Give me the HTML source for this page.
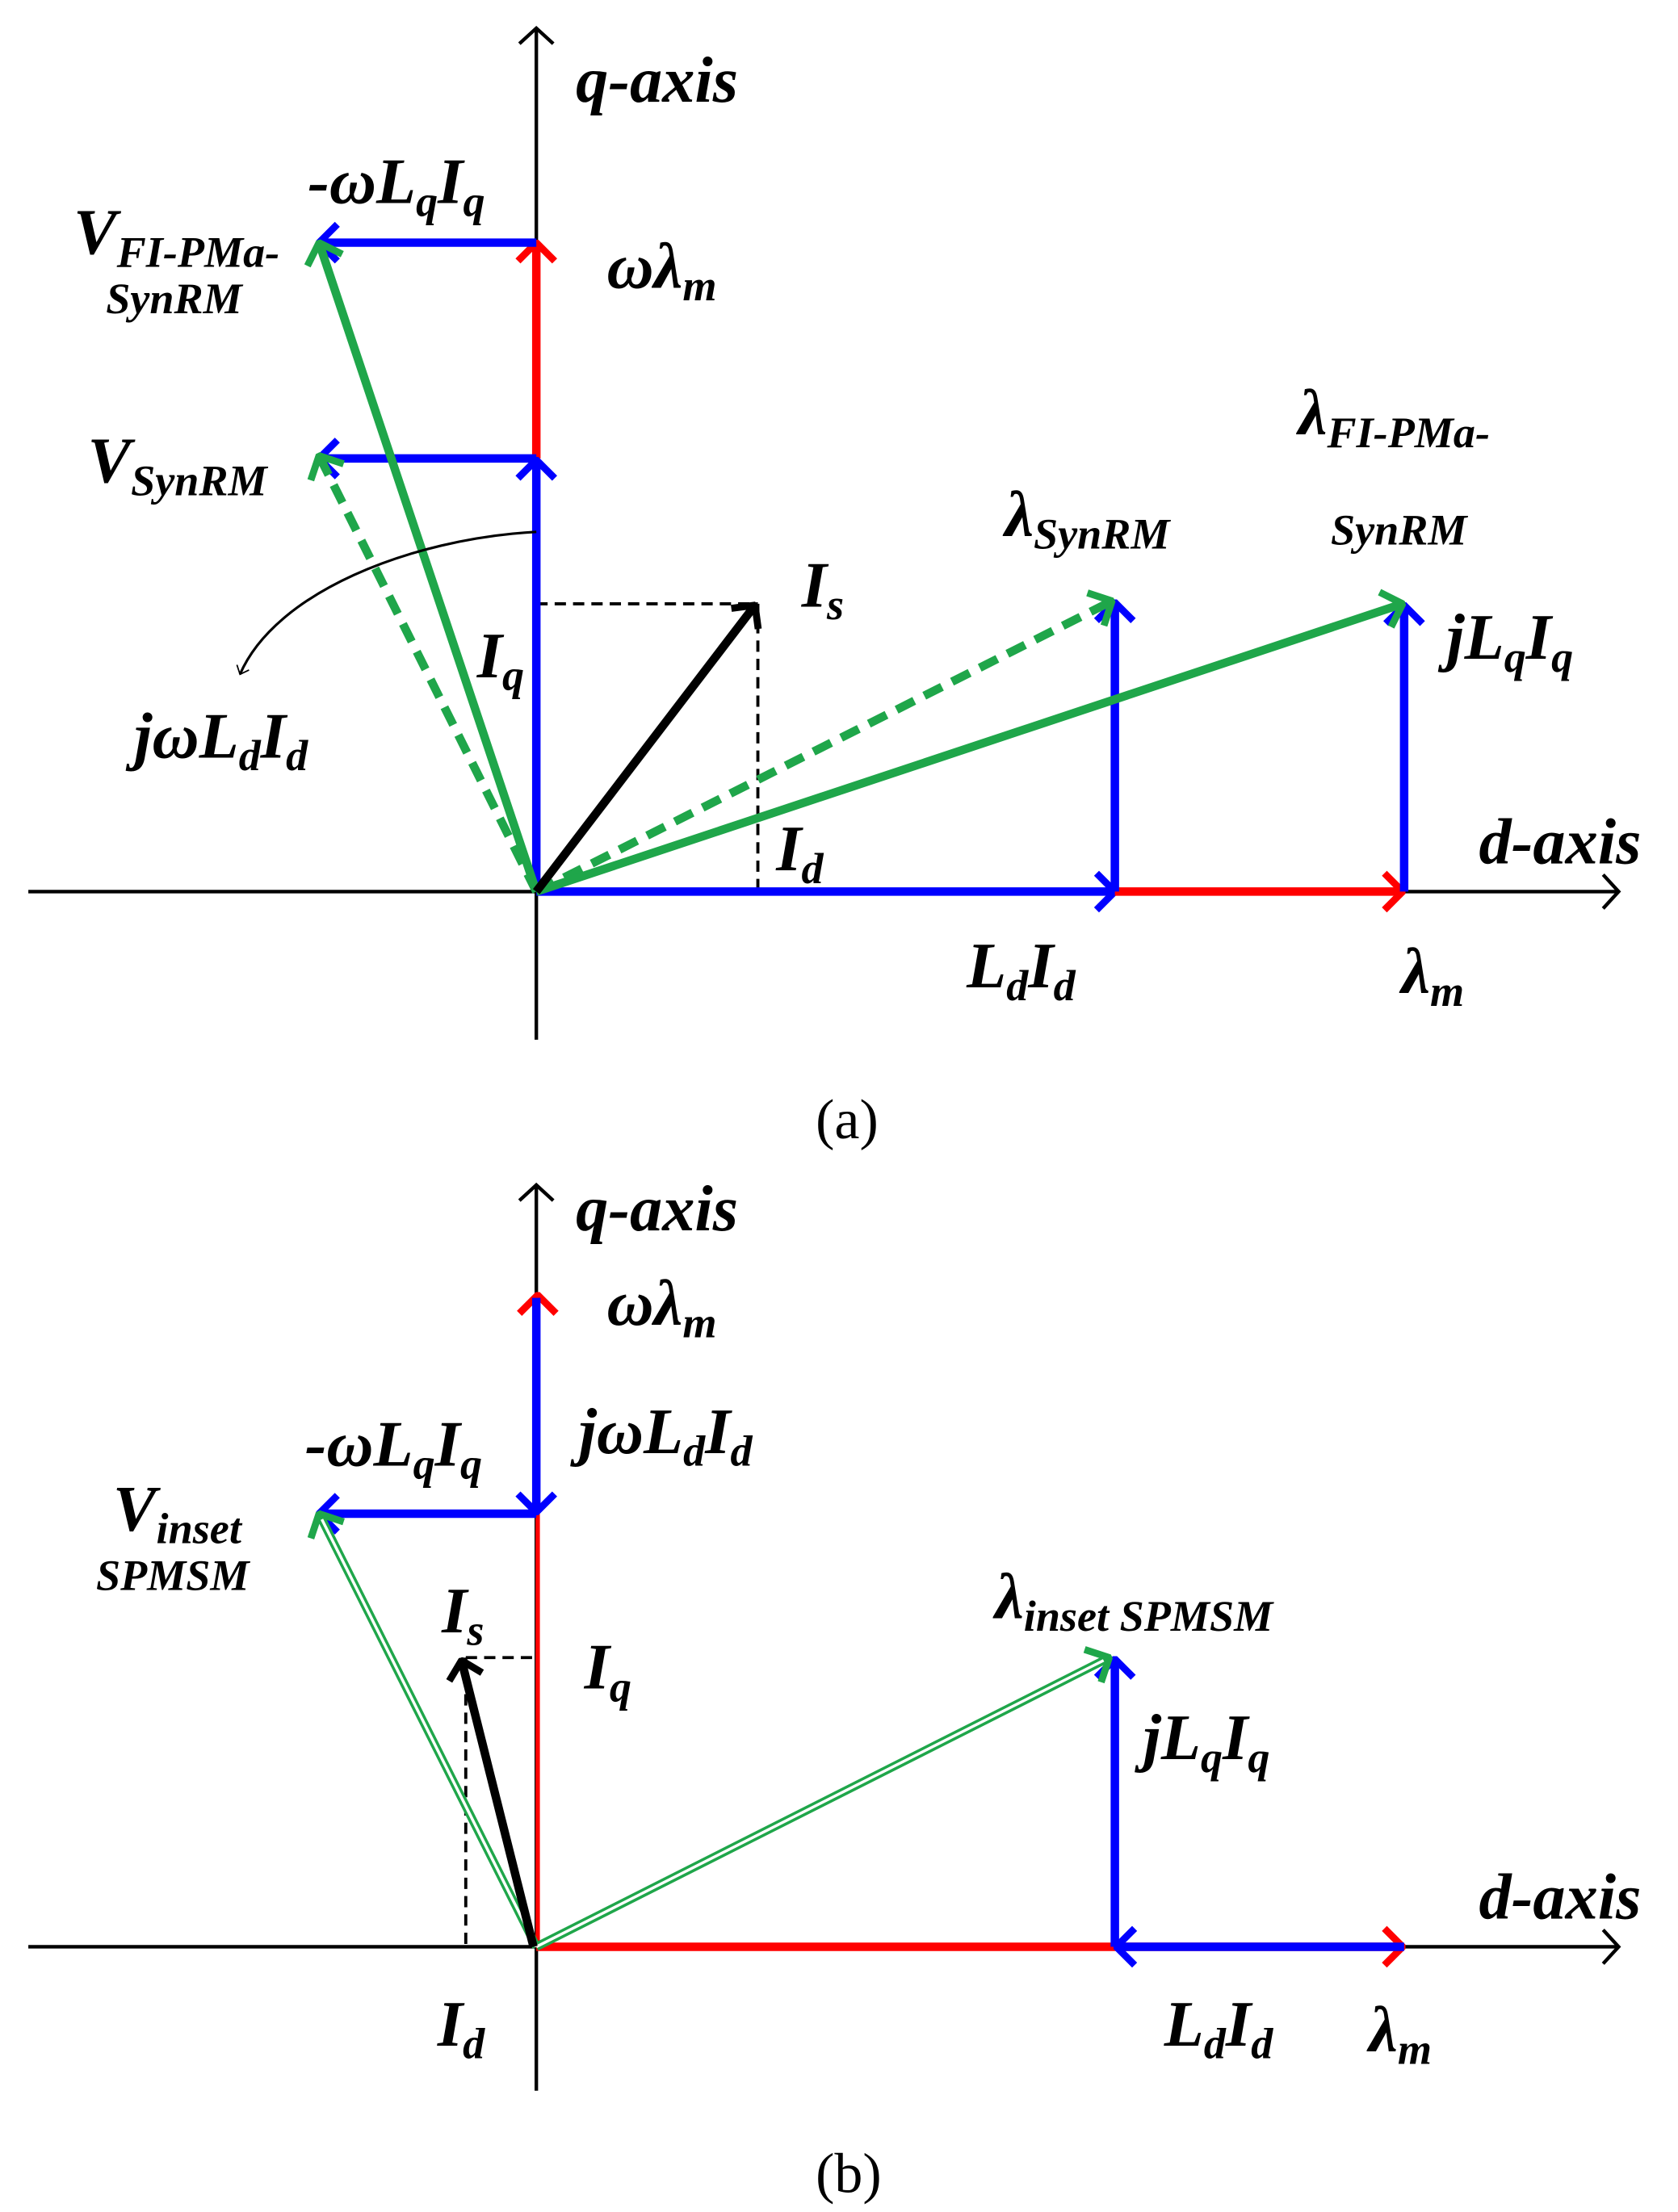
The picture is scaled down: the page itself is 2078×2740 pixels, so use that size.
<!DOCTYPE html>
<html><head><meta charset="utf-8"><style>
html,body{margin:0;padding:0;background:#fff}
svg{display:block}
text{font-family:"Liberation Serif",serif;font-weight:bold;font-style:italic;font-size:46px;fill:#000}
.s{font-size:31px}
.n{font-style:normal;font-weight:normal;font-size:40px}
</style></head><body>
<svg width="2078" height="2740" viewBox="0 0 1189 1568" xmlns="http://www.w3.org/2000/svg">
<defs>
<marker id="ab" viewBox="-16 -15 18 30" markerWidth="18" markerHeight="30" refX="0" refY="0" orient="auto" markerUnits="userSpaceOnUse"><path d="M-13,-13 L0,0 L-13,13" fill="none" stroke="#0000ff" stroke-width="5"/></marker>
<marker id="ar" viewBox="-16 -15 18 30" markerWidth="18" markerHeight="30" refX="0" refY="0" orient="auto" markerUnits="userSpaceOnUse"><path d="M-13,-13 L0,0 L-13,13" fill="none" stroke="#ff0000" stroke-width="5"/></marker>
<marker id="ag" viewBox="-16 -15 18 30" markerWidth="18" markerHeight="30" refX="0" refY="0" orient="auto" markerUnits="userSpaceOnUse"><path d="M-13,-13 L0,0 L-13,13" fill="none" stroke="#1fa64a" stroke-width="5"/></marker>
<marker id="ak" viewBox="-16 -15 18 30" markerWidth="18" markerHeight="30" refX="0" refY="0" orient="auto" markerUnits="userSpaceOnUse"><path d="M-12,-12 L0,0 L-12,12" fill="none" stroke="#000" stroke-width="5"/></marker>
<marker id="ax" viewBox="-14 -14 16 28" markerWidth="16" markerHeight="28" refX="0" refY="0" orient="auto" markerUnits="userSpaceOnUse"><path d="M-11,-12 L0,0 L-11,12" fill="none" stroke="#000" stroke-width="2.5"/></marker>
<marker id="at" viewBox="-12 -12 14 24" markerWidth="10" markerHeight="16" refX="0" refY="0" orient="auto" markerUnits="userSpaceOnUse"><path d="M-8,-7 L0,0 L-8,7" fill="none" stroke="#000" stroke-width="1.5"/></marker>
</defs>

<!-- Panel (a) -->
<line x1="380" y1="737" x2="380" y2="20" stroke="#000" stroke-width="2.5" marker-end="url(#ax)"/>
<line x1="20" y1="632" x2="1147" y2="632" stroke="#000" stroke-width="2.5" marker-end="url(#ax)"/>
<line x1="380" y1="428" x2="537" y2="428" stroke="#000" stroke-width="2.2" stroke-dasharray="8,5"/>
<line x1="537" y1="428" x2="537" y2="632" stroke="#000" stroke-width="2.2" stroke-dasharray="8,5"/>
<line x1="380" y1="325" x2="380" y2="172" stroke="#ff0000" stroke-width="6" marker-end="url(#ar)"/>
<line x1="380" y1="632" x2="380" y2="326" stroke="#0000ff" stroke-width="6" marker-end="url(#ab)"/>
<line x1="380" y1="172" x2="226" y2="172" stroke="#0000ff" stroke-width="6" marker-end="url(#ab)"/>
<line x1="380" y1="325" x2="226" y2="325" stroke="#0000ff" stroke-width="6" marker-end="url(#ab)"/>
<line x1="380" y1="632" x2="790" y2="632" stroke="#0000ff" stroke-width="6" marker-end="url(#ab)"/>
<line x1="790" y1="632" x2="994" y2="632" stroke="#ff0000" stroke-width="6" marker-end="url(#ar)"/>
<line x1="790" y1="632" x2="790" y2="427" stroke="#0000ff" stroke-width="6" marker-end="url(#ab)"/>
<line x1="995" y1="632" x2="995" y2="429" stroke="#0000ff" stroke-width="6" marker-end="url(#ab)"/>
<line x1="380" y1="632" x2="226" y2="172" stroke="#1fa64a" stroke-width="6" marker-end="url(#ag)"/>
<line x1="380" y1="632" x2="226" y2="323" stroke="#1fa64a" stroke-width="6" stroke-dasharray="14,8" marker-end="url(#ag)"/>
<line x1="380" y1="632" x2="788" y2="426" stroke="#1fa64a" stroke-width="6" stroke-dasharray="14,8" marker-end="url(#ag)"/>
<line x1="380" y1="632" x2="994" y2="428" stroke="#1fa64a" stroke-width="6" marker-end="url(#ag)"/>
<line x1="380" y1="632" x2="535" y2="429" stroke="#000" stroke-width="6" marker-end="url(#ak)"/>
<path d="M380,377 C290,382 195,420 170,478" fill="none" stroke="#000" stroke-width="1.8" marker-end="url(#at)"/>

<text x="408" y="72">q-axis</text>
<text x="218" y="144">-ωL<tspan class="s" dy="9">q</tspan><tspan dy="-9">I</tspan><tspan class="s" dy="9">q</tspan></text>
<text x="52" y="180">V<tspan class="s" dy="9">FI-PMa-</tspan></text>
<text class="s" x="75" y="222">SynRM</text>
<text x="430" y="204">ωλ<tspan class="s" dy="9">m</tspan></text>
<text x="62" y="342">V<tspan class="s" dy="9">SynRM</tspan></text>
<text x="712" y="380">λ<tspan class="s" dy="9">SynRM</tspan></text>
<text x="920" y="308">λ<tspan class="s" dy="9">FI-PMa-</tspan></text>
<text class="s" x="943" y="386">SynRM</text>
<text x="568" y="430">I<tspan class="s" dy="9">s</tspan></text>
<text x="338" y="480">I<tspan class="s" dy="9">q</tspan></text>
<text x="95" y="537">jωL<tspan class="s" dy="9">d</tspan><tspan dy="-9">I</tspan><tspan class="s" dy="9">d</tspan></text>
<text x="1025" y="467">jL<tspan class="s" dy="9">q</tspan><tspan dy="-9">I</tspan><tspan class="s" dy="9">q</tspan></text>
<text x="1048" y="612">d-axis</text>
<text x="550" y="617">I<tspan class="s" dy="9">d</tspan></text>
<text x="685" y="700">L<tspan class="s" dy="9">d</tspan><tspan dy="-9">I</tspan><tspan class="s" dy="9">d</tspan></text>
<text x="993" y="704">λ<tspan class="s" dy="9">m</tspan></text>
<text class="n" x="578" y="807">(a)</text>

<!-- Panel (b) -->
<line x1="380" y1="1482" x2="380" y2="840" stroke="#000" stroke-width="2.5" marker-end="url(#ax)"/>
<line x1="20" y1="1380" x2="1147" y2="1380" stroke="#000" stroke-width="2.5" marker-end="url(#ax)"/>
<line x1="330" y1="1175" x2="380" y2="1175" stroke="#000" stroke-width="2.2" stroke-dasharray="8,5"/>
<line x1="330" y1="1175" x2="330" y2="1380" stroke="#000" stroke-width="2.2" stroke-dasharray="8,5"/>
<line x1="381" y1="1380" x2="381" y2="918" stroke="#ff0000" stroke-width="3" marker-end="url(#ar)"/>
<line x1="380" y1="920" x2="380" y2="1072" stroke="#0000ff" stroke-width="6" marker-end="url(#ab)"/>
<line x1="381" y1="1380" x2="381" y2="1075" stroke="#ff0000" stroke-width="3"/>
<line x1="380" y1="1073" x2="226" y2="1073" stroke="#0000ff" stroke-width="6" marker-end="url(#ab)"/>
<line x1="380" y1="1380" x2="994" y2="1380" stroke="#ff0000" stroke-width="6" marker-end="url(#ar)"/>
<line x1="995" y1="1380" x2="791" y2="1380" stroke="#0000ff" stroke-width="6" marker-end="url(#ab)"/>
<line x1="790" y1="1380" x2="790" y2="1176" stroke="#0000ff" stroke-width="6" marker-end="url(#ab)"/>
<g>
<line x1="380" y1="1380" x2="226" y2="1073" stroke="#1fa64a" stroke-width="6" marker-end="url(#ag)"/>
<line x1="380" y1="1380" x2="228" y2="1077" stroke="#fff" stroke-width="2"/>
<line x1="380" y1="1380" x2="786" y2="1175" stroke="#1fa64a" stroke-width="6" marker-end="url(#ag)"/>
<line x1="380" y1="1380" x2="782" y2="1177" stroke="#fff" stroke-width="2"/>
</g>
<line x1="378" y1="1380" x2="327" y2="1177" stroke="#000" stroke-width="6" marker-end="url(#ak)"/>

<text x="408" y="872">q-axis</text>
<text x="430" y="939">ωλ<tspan class="s" dy="9">m</tspan></text>
<text x="410" y="1030">jωL<tspan class="s" dy="9">d</tspan><tspan dy="-9">I</tspan><tspan class="s" dy="9">d</tspan></text>
<text x="216" y="1039">-ωL<tspan class="s" dy="9">q</tspan><tspan dy="-9">I</tspan><tspan class="s" dy="9">q</tspan></text>
<text x="80" y="1085">V<tspan class="s" dy="9">inset</tspan></text>
<text class="s" x="68" y="1127">SPMSM</text>
<text x="313" y="1157">I<tspan class="s" dy="9">s</tspan></text>
<text x="414" y="1197">I<tspan class="s" dy="9">q</tspan></text>
<text x="705" y="1147">λ<tspan class="s" dy="9">inset SPMSM</tspan></text>
<text x="810" y="1247">jL<tspan class="s" dy="9">q</tspan><tspan dy="-9">I</tspan><tspan class="s" dy="9">q</tspan></text>
<text x="1048" y="1360">d-axis</text>
<text x="310" y="1450">I<tspan class="s" dy="9">d</tspan></text>
<text x="825" y="1450">L<tspan class="s" dy="9">d</tspan><tspan dy="-9">I</tspan><tspan class="s" dy="9">d</tspan></text>
<text x="970" y="1454">λ<tspan class="s" dy="9">m</tspan></text>
<text class="n" x="578" y="1554">(b)</text>
</svg>
</body></html>
